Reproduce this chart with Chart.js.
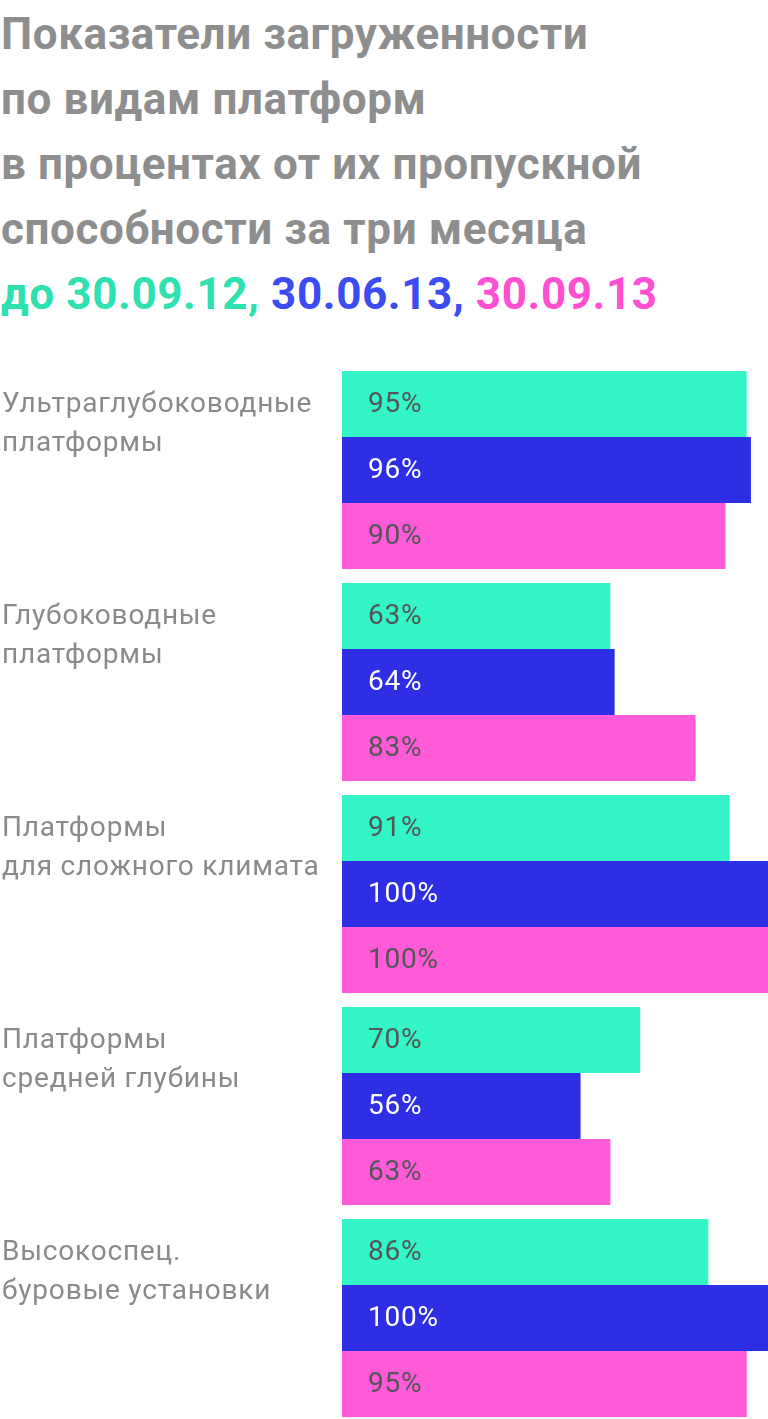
<!DOCTYPE html>
<html><head><meta charset="utf-8">
<script src="https://cdn.jsdelivr.net/npm/chart.js@4"></script>
<style>
html,body{margin:0;padding:0;background:#fff;overflow:hidden;width:768px;height:1419px;}
#t{position:absolute;left:1px;top:2px;font:bold 44px Roboto,sans-serif;line-height:65px;color:#8e8e8e;letter-spacing:0.6px;white-space:nowrap;}
#w{position:absolute;left:0;top:0;width:768px;height:1424px;}
</style></head><body>
<div id="t">Показатели загруженности<br>по видам платформ<br>в процентах от их пропускной<br>способности за три месяца<br><span style="color:#2fe0b0">до 30.09.12,</span> <span style="color:#3b4cf0">30.06.13,</span> <span style="color:#ff50d2">30.09.13</span></div>
<div id="w"><canvas id="c" width="768" height="1424"></canvas></div>
<script>
const categories=[["Ультраглубоководные","платформы"],["Глубоководные","платформы"],["Платформы","для сложного климата"],["Платформы","средней глубины"],["Высокоспец.","буровые установки"]];
const seriesNames=["30.09.12","30.06.13","30.09.13"];
const s1=[95,63,91,70,86];
const s2=[96,64,100,56,100];
const s3=[90,83,100,63,95];
const colors=["#33f5c6","#2e2ee4","#ff5ad8"];
const textColors=["#555","#fff","#555"];
const plug={id:'lab',afterDatasetsDraw(ch){
 const ctx=ch.ctx;ctx.save();ctx.font='28px Roboto, sans-serif';ctx.letterSpacing='0.8px';ctx.textBaseline='middle';
 const ys=ch.scales.y;
 categories.forEach((c,i)=>{const cy=ys.getPixelForValue(i);const top=cy-99;ctx.fillStyle='#8a8a8a';ctx.textAlign='left';ctx.fillText(c[0],2,top+34);ctx.fillText(c[1],2,top+73);});
 ch.data.datasets.forEach((d,di)=>{ch.getDatasetMeta(di).data.forEach((b,i)=>{ctx.fillStyle=textColors[di];ctx.fillText(d.data[i]+'%',368,b.y+1);});});
 ctx.restore();}};
new Chart(document.getElementById('c'),{type:'bar',
data:{labels:categories.map(c=>c.join(' ')),datasets:[s1,s2,s3].map((d,i)=>({label:seriesNames[i],data:d,backgroundColor:colors[i],barPercentage:1,categoryPercentage:0.934}))},
options:{indexAxis:'y',responsive:false,animation:false,layout:{padding:{left:342,top:364,right:0,bottom:0}},
plugins:{legend:{display:false},tooltip:{enabled:false}},
scales:{x:{display:false,min:0,max:100},y:{display:false}}},plugins:[plug]});
</script></body></html>
